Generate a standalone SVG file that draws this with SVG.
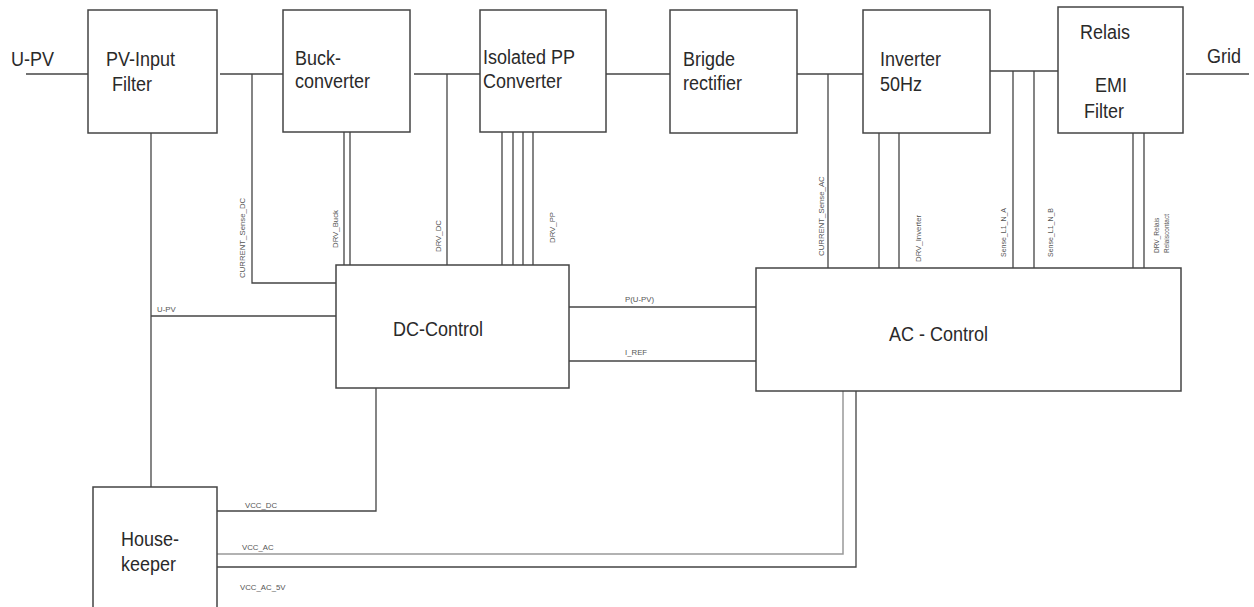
<svg xmlns="http://www.w3.org/2000/svg" width="1254" height="607" viewBox="0 0 1254 607">
<style>
.box{fill:#fff;stroke:#444;stroke-width:1.5}
.t{font-family:"Liberation Sans",Arial,sans-serif;font-size:18px;fill:#2a2a2a}
.s{font-family:"Liberation Sans",Arial,sans-serif;font-size:7.8px;fill:#555}
.w{fill:none;stroke:#444;stroke-width:1.3}
.g{fill:none;stroke:#999;stroke-width:1.5}
</style>
<rect width="1254" height="607" fill="#fff"/>
<g id="connectors">
<path class="w" d="M26,74H88"/>
<path class="w" d="M220,74H283"/>
<path class="w" d="M252,74V283H336"/>
<path class="w" d="M414,74H480"/>
<path class="w" d="M447,74V265"/>
<path class="w" d="M344,132V265M350,132V265"/>
<path class="w" d="M502,132V265M513,132V265M523,132V265M533,132V265"/>
<path class="w" d="M606,74H670"/>
<path class="w" d="M797,74H863"/>
<path class="w" d="M828,74V268"/>
<path class="w" d="M879,133V268M899,133V268"/>
<path class="w" d="M990,71H1058"/>
<path class="w" d="M1013,71V268M1034,71V268"/>
<path class="w" d="M1133,133V268M1144,133V268"/>
<path class="w" d="M1186,74H1249"/>
<path class="w" d="M151,133V487"/>
<path class="w" d="M151,316H336"/>
<path class="w" d="M569,307H756"/>
<path class="w" d="M569,361H756"/>
<path class="w" d="M217,511H376V388"/>
<path class="g" d="M217,554H843V391"/>
<path class="w" d="M217,567H856V391"/>
<text class="s" transform="translate(245,278) rotate(-90)">CURRENT_Sense_DC</text>
<text class="s" transform="translate(338,248) rotate(-90)">DRV_Buck</text>
<text class="s" transform="translate(441,252) rotate(-90)">DRV_DC</text>
<text class="s" transform="translate(555,243) rotate(-90)">DRV_PP</text>
<text class="s" transform="translate(824,256) rotate(-90)">CURRENT_Sense_AC</text>
<text class="s" transform="translate(921,262) rotate(-90)">DRV_Inverter</text>
<text class="s" transform="translate(1006,257) rotate(-90)" style="font-size:7px">Sense_L1_N_A</text>
<text class="s" transform="translate(1053,257) rotate(-90)" style="font-size:7px">Sense_L1_N_B</text>
<text class="s" transform="translate(1159,253) rotate(-90)" style="font-size:6.5px">DRV_Relais</text>
<text class="s" transform="translate(1169,253) rotate(-90)" style="font-size:6.5px">Relaiscontact</text>
<text class="s" x="157" y="312">U-PV</text>
<text class="s" x="625" y="302">P(U-PV)</text>
<text class="s" x="625" y="355">I_REF</text>
<text class="s" x="245" y="508">VCC_DC</text>
<text class="s" x="242" y="550">VCC_AC</text>
<text class="s" x="240" y="590">VCC_AC_5V</text>
<text class="t" transform="translate(11,66) scale(1,1.1)">U-PV</text>
<text class="t" transform="translate(1207,63) scale(1,1.1)">Grid</text>
</g>
<g id="pv-input-filter">
<rect class="box" x="88" y="10" width="129" height="123"/>
<text class="t" transform="translate(106,66) scale(1,1.1)">PV-Input</text>
<text class="t" transform="translate(112,91) scale(1,1.1)">Filter</text>
</g>
<g id="buck-converter">
<rect class="box" x="283" y="10" width="127" height="122"/>
<text class="t" transform="translate(295,65) scale(1,1.1)">Buck-</text>
<text class="t" transform="translate(295,88) scale(1,1.1)">converter</text>
</g>
<g id="isolated-pp-converter">
<rect class="box" x="480" y="10" width="126" height="122"/>
<text class="t" transform="translate(483,64) scale(1,1.1)">Isolated PP</text>
<text class="t" transform="translate(483,88) scale(1,1.1)">Converter</text>
</g>
<g id="bridge-rectifier">
<rect class="box" x="670" y="10" width="127" height="123"/>
<text class="t" transform="translate(683,66) scale(1,1.1)">Brigde</text>
<text class="t" transform="translate(683,90) scale(1,1.1)">rectifier</text>
</g>
<g id="inverter">
<rect class="box" x="863" y="10" width="127" height="123"/>
<text class="t" transform="translate(880,66) scale(1,1.1)">Inverter</text>
<text class="t" transform="translate(880,91) scale(1,1.1)">50Hz</text>
</g>
<g id="relais-emi-filter">
<rect class="box" x="1058" y="7" width="125" height="126"/>
<text class="t" transform="translate(1080,39) scale(1,1.1)">Relais</text>
<text class="t" transform="translate(1095,92) scale(1,1.1)">EMI</text>
<text class="t" transform="translate(1084,118) scale(1,1.1)">Filter</text>
</g>
<g id="dc-control">
<rect class="box" x="336" y="265" width="233" height="123"/>
<text class="t" transform="translate(393,336) scale(1,1.1)">DC-Control</text>
</g>
<g id="ac-control">
<rect class="box" x="756" y="268" width="425" height="123"/>
<text class="t" transform="translate(889,341) scale(1,1.1)">AC - Control</text>
</g>
<g id="housekeeper">
<rect class="box" x="93" y="487" width="124" height="140"/>
<text class="t" transform="translate(121,546) scale(1,1.1)">House-</text>
<text class="t" transform="translate(121,571) scale(1,1.1)">keeper</text>
</g>
</svg>
